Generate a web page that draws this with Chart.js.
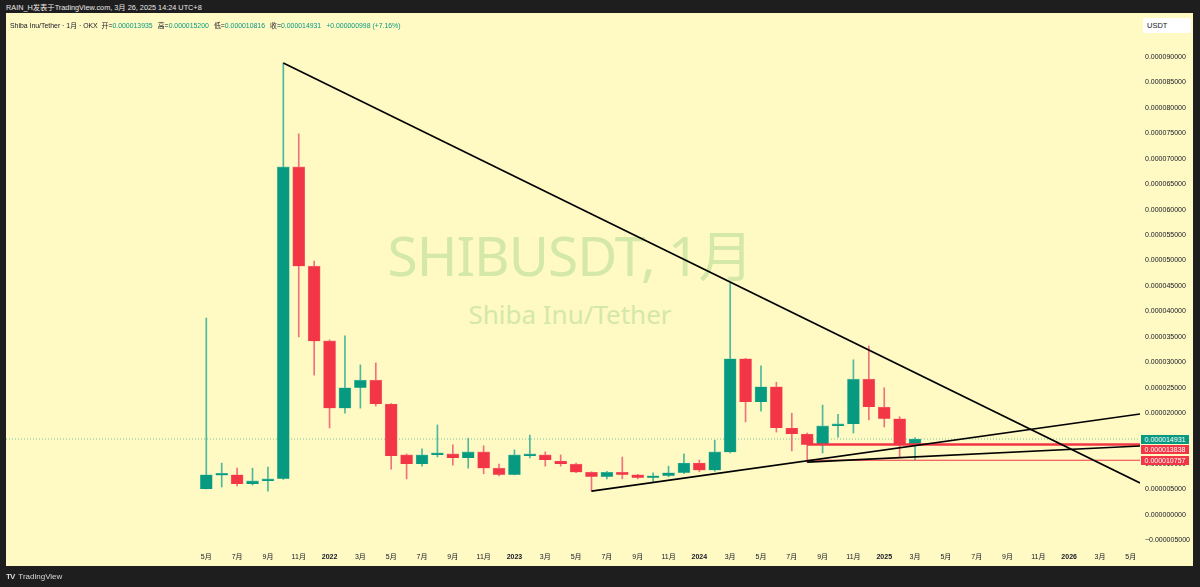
<!DOCTYPE html>
<html>
<head>
<meta charset="utf-8">
<script src="https://cdn.jsdelivr.net/npm/chart.js@4/dist/chart.umd.min.js"></script>
<style>
	body { margin: 0; width: 1200px; height: 587px; overflow: hidden; background: #1e1e1e; position: relative; font-family: "Liberation Sans", "Noto Sans CJK SC", sans-serif; }
	#topbar { position: absolute; left: 6px; top: 2px; font-size: 7.3px; color: #e8e8e8; white-space: nowrap; }
	#panel { position: absolute; left: 6px; top: 13px; width: 1187px; height: 553px; background: #fff9c4; }
	.wm { position: absolute; left: 0; width: 1140px; text-align: center; color: #d4e8a8; white-space: nowrap; font-family: "Noto Sans", "Noto Sans CJK SC", sans-serif; }
	#wm1 { top: 212px; font-size: 55px; letter-spacing: -1px; }
	#wm2 { top: 296px; font-size: 26px; }
	canvas { position: absolute; left: 0; top: 0; }
	#legend { position: absolute; left: 10px; top: 20px; font-size: 6.9px; color: #131722; white-space: nowrap; }
	#legend .v { color: #089981; margin-right: 5px; }
	#usdt { position: absolute; left: 1143px; top: 18px; width: 48px; height: 15px; background: #fff; border-radius: 2px; font-size: 7.5px; color: #131722; line-height: 15px; box-sizing: border-box; padding-left: 4px; }
	.tag { position: absolute; left: 1141px; width: 48px; height: 9px; font-size: 7px; line-height: 9px; color: #fff; text-align: center; }
	#tv { position: absolute; left: 6px; top: 572px; font-size: 8px; color: #d8d8d8; white-space: nowrap; }
	#tv b { font-size: 8px; margin-right: 2px; letter-spacing: -1px; }
</style>
</head>
<body>
<div id="topbar">RAIN_H发表于TradingView.com, 3月 26, 2025 14:24 UTC+8</div>
<div id="panel"></div>
<div class="wm" id="wm1">SHIBUSDT, 1月</div>
<div class="wm" id="wm2">Shiba Inu/Tether</div>
<canvas id="chart" width="1200" height="587"></canvas>
<div id="legend">Shiba Inu/Tether · 1月 · OKX &nbsp;开=<span class="v">0.000013935</span>高=<span class="v">0.000015200</span>低=<span class="v">0.000010816</span>收=<span class="v">0.000014931</span><span class="v">+0.000000998 (+7.16%)</span></div>
<div id="usdt">USDT</div>
<div id="tags"></div>
<div id="tv"><b>TV</b> TradingView</div>
<script>
// monthly candles, prices in millionths of USDT (1 = 0.000001)
const months = [
	'2021-05', '2021-06', '2021-07', '2021-08', '2021-09', '2021-10', '2021-11', '2021-12',
	'2022-01', '2022-02', '2022-03', '2022-04', '2022-05', '2022-06', '2022-07', '2022-08',
	'2022-09', '2022-10', '2022-11', '2022-12', '2023-01', '2023-02', '2023-03', '2023-04',
	'2023-05', '2023-06', '2023-07', '2023-08', '2023-09', '2023-10', '2023-11', '2023-12',
	'2024-01', '2024-02', '2024-03', '2024-04', '2024-05', '2024-06', '2024-07', '2024-08',
	'2024-09', '2024-10', '2024-11', '2024-12', '2025-01', '2025-02', '2025-03'
];
const opens = [
	5.1, 7.8, 7.9, 6.1, 6.7, 7.1, 68.4, 48.9,
	34.2, 21.0, 25.0, 26.5, 21.8, 11.8, 10.0, 11.8,
	12.0, 11.2, 12.4, 9.2, 7.9, 11.6, 11.8, 10.6,
	10.0, 8.4, 7.5, 8.4, 7.9, 7.3, 7.7, 8.3,
	10.2, 8.8, 12.4, 30.7, 22.2, 25.2, 17.1, 15.9,
	13.8, 17.5, 17.9, 26.7, 21.2, 18.9, 13.935
];
const highs = [
	38.7, 10.2, 9.2, 9.2, 9.4, 88.8, 74.9, 49.9,
	34.4, 35.2, 29.5, 29.9, 21.9, 12.0, 13.0, 17.7,
	13.8, 15.1, 13.6, 10.0, 12.8, 15.7, 12.4, 11.8,
	10.2, 8.5, 8.6, 11.4, 8.0, 8.3, 9.6, 12.0,
	10.8, 14.7, 45.6, 30.8, 29.3, 26.1, 20.0, 16.1,
	21.6, 19.8, 30.5, 33.2, 25.0, 19.3, 15.2
];
const lows = [
	5.1, 5.5, 5.7, 5.9, 4.7, 7.0, 35.0, 27.5,
	17.1, 20.0, 21.0, 21.4, 9.0, 7.1, 9.6, 11.4,
	9.8, 9.2, 8.1, 7.7, 7.9, 11.2, 9.6, 9.6,
	8.3, 4.7, 7.1, 7.1, 7.1, 6.5, 7.5, 8.1,
	8.5, 8.6, 12.2, 18.3, 20.4, 16.3, 12.6, 10.4,
	12.2, 15.3, 16.1, 18.7, 17.3, 11.4, 10.816
];
const closes = [
	7.9, 7.9, 6.1, 6.7, 7.1, 68.4, 48.9, 34.2,
	21.0, 25.0, 26.5, 21.8, 11.6, 10.0, 11.8, 12.0,
	11.2, 12.4, 9.2, 7.9, 11.8, 12.0, 10.8, 10.0,
	8.4, 7.5, 8.4, 7.9, 7.3, 7.7, 8.3, 10.2,
	8.8, 12.4, 30.7, 22.2, 25.2, 17.1, 15.9, 13.8,
	17.5, 17.9, 26.7, 21.2, 18.9, 13.935, 14.931
];

// x positions are month numbers counted from 2021-05
const xTickPos = [0, 2, 4, 6, 8, 10, 12, 14, 16, 18, 20, 22, 24, 26, 28, 30, 32, 34, 36, 38, 40, 42, 44, 46, 48, 50, 52, 54, 56, 58, 60];
const xTickLabels = ['5月', '7月', '9月', '11月', '2022', '3月', '5月', '7月', '9月', '11月', '2023', '3月', '5月', '7月', '9月', '11月',
	'2024', '3月', '5月', '7月', '9月', '11月', '2025', '3月', '5月', '7月', '9月', '11月', '2026', '3月', '5月'];
const yTickValues = [-5, 0, 5, 10, 15, 20, 25, 30, 35, 40, 45, 50, 55, 60, 65, 70, 75, 80, 85, 90];

// drawn lines: [month, price] pairs
const downTrend = [[5, 88.8], [60.6, 6.3]];
const upTrend = [[25, 4.7], [60.6, 19.85]];
const lowTrend = [[39, 10.4], [60.6, 13.56]];
const redLevel = [[39, 13.838], [60.6, 13.838]];
const redLevelLow = [[39, 10.757], [60.6, 10.757]];
const lastPrice = [[-13, 14.931], [60.6, 14.931]];

const priceTags = [
	{ value: 14.931, text: '0.000014931', color: '#089981' },
	{ value: 13.838, text: '0.000013838', color: '#f23645' },
	{ value: 10.757, text: '0.000010757', color: '#f23645' }
];

const GREEN = '#089981';
const RED = '#f23645';
const FONT = '"Liberation Sans", "Noto Sans CJK SC", sans-serif';

function toPoints(arr) {
	return arr.map(p => ({ x: p[0], y: p[1] }));
}

const up = months.map((m, i) => closes[i] >= opens[i]);
const bodies = months.map((m, i) => ({ x: i, y: [opens[i], closes[i]] }));
const wicks = months.map((m, i) => ({ x: i, y: [lows[i], highs[i]] }));

function lineSet(arr, color, width, dash) {
	return {
		type: 'line',
		data: toPoints(arr),
		borderColor: color,
		borderWidth: width,
		borderDash: dash || [],
		pointRadius: 0,
		fill: false,
		order: 0
	};
}

const tagsEl = document.getElementById('tags');
const tagPlugin = {
	id: 'tags',
	afterDraw(chart) {
		const ys = chart.scales.y;
		tagsEl.innerHTML = '';
		let prevBottom = -1000;
		priceTags.forEach(t => {
			let top = ys.getPixelForValue(t.value) - 4.5;
			if (top < prevBottom + 1) top = prevBottom + 1;
			prevBottom = top + 9;
			const d = document.createElement('div');
			d.className = 'tag';
			d.style.top = top + 'px';
			d.style.background = t.color;
			d.textContent = t.text;
			tagsEl.appendChild(d);
		});
	}
};

new Chart(document.getElementById('chart'), {
	type: 'bar',
	data: {
		datasets: [
			lineSet(downTrend, '#000', 1.6),
			lineSet(upTrend, '#000', 1.6),
			lineSet(lowTrend, '#000', 1.6),
			lineSet(redLevel, RED, 2.5),
			lineSet(redLevelLow, RED, 1),
			Object.assign(lineSet(lastPrice, 'rgba(8,153,129,0.55)', 1, [1, 2]), { order: 3 }),
			{
				data: bodies,
				backgroundColor: up.map(u => u ? GREEN : RED),
				borderColor: up.map(u => u ? '#5cc3a7' : '#f7727d'),
				borderWidth: 0.6,
				barThickness: 12,
				minBarLength: 2,
				grouped: false,
				order: 1
			},
			{
				data: wicks,
				backgroundColor: up.map(u => u ? '#4fb89c' : '#f0727c'),
				barThickness: 1,
				grouped: false,
				order: 2
			}
		]
	},
	options: {
		responsive: false,
		animation: false,
		events: [],
		layout: { padding: { left: 6, top: 13, right: 7, bottom: 21 } },
		plugins: { legend: { display: false }, tooltip: { enabled: false } },
		scales: {
			x: {
				type: 'linear',
				min: -13,
				max: 60.6,
				offset: false,
				grid: { display: false, drawTicks: false },
				border: { display: false },
				afterBuildTicks: s => { s.ticks = xTickPos.map(v => ({ value: v })); },
				afterFit: s => { s.height = 20; },
				ticks: {
					autoSkip: false,
					maxRotation: 0,
					padding: 7,
					color: '#131722',
					font: ctx => ({ family: FONT, size: 7, weight: /^\d{4}$/.test(xTickLabels[ctx.index]) ? 'bold' : 'normal' }),
					callback: (v, i) => xTickLabels[i]
				}
			},
			y: {
				position: 'right',
				min: -6.09,
				max: 98.64,
				grid: { display: false, drawTicks: false },
				border: { display: false },
				afterBuildTicks: s => { s.ticks = yTickValues.map(v => ({ value: v })); },
				afterFit: s => { s.width = 53; },
				ticks: {
					padding: 5,
					color: '#131722',
					font: { family: FONT, size: 7 },
					callback: v => (v / 1e6).toFixed(9).replace('-', '−')
				}
			}
		}
	},
	plugins: [tagPlugin]
});
</script>
</body>
</html>
